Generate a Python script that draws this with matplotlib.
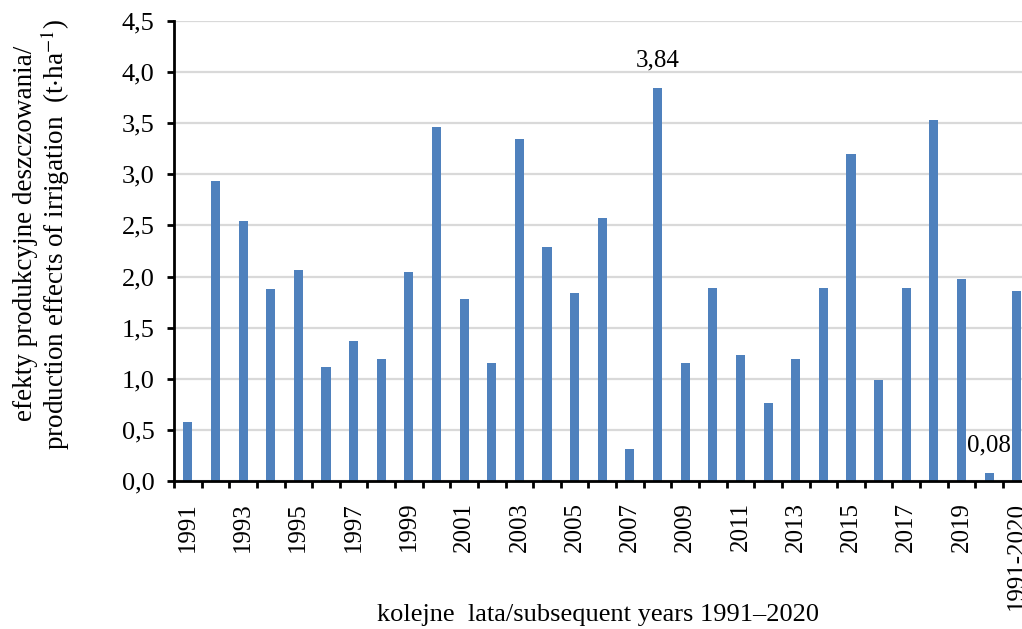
import matplotlib
matplotlib.use("Agg")
import matplotlib.pyplot as plt
import numpy as np

categories = [str(y) for y in range(1991, 2021)] + ["1991-2020"]
values = [0.58, 2.93, 2.54, 1.88, 2.06, 1.12, 1.37, 1.19, 2.04, 3.46,
          1.78, 1.15, 3.35, 2.29, 1.84, 2.57, 0.31, 3.84, 1.15, 1.89,
          1.23, 0.76, 1.19, 1.89, 3.20, 0.99, 1.89, 3.53, 1.98, 0.08,
          1.86]
labelled = {"2008": "3,84", "2020": "0,08"}
yticks = [0.0, 0.5, 1.0, 1.5, 2.0, 2.5, 3.0, 3.5, 4.0, 4.5]

plt.rcParams['font.family'] = ['Liberation Serif', 'DejaVu Serif']
plt.rcParams['mathtext.fontset'] = 'stix'

W, H = 1022, 629
fig = plt.figure(figsize=(W/100, H/100), dpi=100)
ax = fig.add_axes([174/W, (H-481)/H, 856.6/W, 460/H])

x = np.arange(len(categories))
ax.bar(x, values, width=0.33, color='#4F81BD', zorder=3)

ax.set_xlim(-0.5, len(categories) - 0.5)
ax.set_ylim(0, 4.5)

ax.set_yticks(yticks)
ax.set_yticklabels([f"{v:.1f}".replace('.', ',') for v in yticks], fontsize=19)
ax.yaxis.grid(True, color='#D9D9D9', linewidth=1.6, zorder=0)

major = list(range(0, len(categories) - 1, 2)) + [len(categories) - 1]
ax.set_xticks(major)
ax.set_xticklabels([categories[i] for i in major], rotation=90, fontsize=18)
ax.set_xticks(np.arange(-0.5, len(categories)), minor=True)
ax.tick_params(axis='x', which='major', length=0, pad=15)
ax.tick_params(axis='x', which='minor', length=5, width=2, direction='out')
ax.tick_params(axis='y', length=5, width=2, direction='out', pad=9)

for s in ['top', 'right']:
    ax.spines[s].set_visible(False)
for s in ['left', 'bottom']:
    ax.spines[s].set_linewidth(2)
    ax.spines[s].set_zorder(4)

for i, c in enumerate(categories):
    if c in labelled:
        ax.annotate(labelled[c], (x[i], values[i]), xytext=(0, 12),
                    textcoords='offset points', ha='center', va='bottom',
                    fontsize=18)

fig.text(26/W, 1 - 233/H, "efekty produkcyjne deszczowania/", rotation=90,
         ha='center', va='center', fontsize=19.5)
fig.text(55/W, 1 - 234/H, r"production effects of irrigation  (t$\cdot$ha$^{-1}$)",
         rotation=90, ha='center', va='center', fontsize=19.5)
fig.text(598/W, 1 - 615/H, "kolejne  lata/subsequent years 1991\u20132020",
         ha='center', va='center', fontsize=19)

fig.savefig("out.png", dpi=100)
